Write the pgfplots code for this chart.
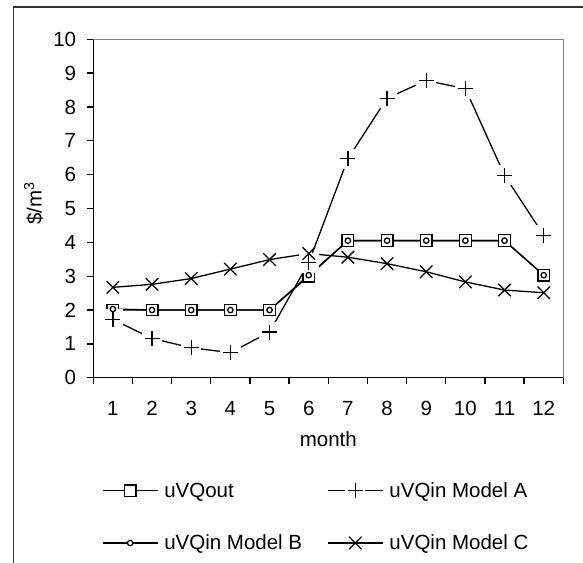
\documentclass[border=0pt]{standalone}
\usepackage{fontspec}
\setmainfont{Liberation Sans}
\usepackage{pgfplots}
\pgfplotsset{compat=1.18}

% "+" drawn over a white box, as the spreadsheet does (it hides the line near the mark)
\pgfdeclareplotmark{boxplus}{%
  \pgfpathrectangle{\pgfqpoint{-1.35\pgfplotmarksize}{-1.35\pgfplotmarksize}}{\pgfqpoint{2.7\pgfplotmarksize}{2.7\pgfplotmarksize}}%
  \pgfusepathqfill
  \pgfpathmoveto{\pgfqpoint{-\pgfplotmarksize}{0pt}}%
  \pgfpathlineto{\pgfqpoint{\pgfplotmarksize}{0pt}}%
  \pgfpathmoveto{\pgfqpoint{0pt}{-\pgfplotmarksize}}%
  \pgfpathlineto{\pgfqpoint{0pt}{\pgfplotmarksize}}%
  \pgfusepathqstroke}

\definecolor{framegray}{RGB}{51,51,51}
\definecolor{plotgray}{RGB}{128,128,128}

\begin{document}
\begin{tikzpicture}[font=\fontsize{20.5bp}{24bp}\selectfont]
\useasboundingbox (0,0) rectangle (583bp,563bp);
\draw[framegray, line width=1.6bp] (13.3bp,-10bp) -- (13.3bp,555.7bp) -- (600bp,555.7bp);

\begin{axis}[
  at={(93.3bp,185.3bp)}, anchor=south west,
  scale only axis, width=470bp, height=338.4bp,
  xmin=0.5, xmax=12.5, ymin=0, ymax=10,
  axis lines=left,
  axis line style={-, black, line width=1.3bp},
  xtick={1,...,12},
  major x tick style={draw=none},
  minor xtick={0.5,1.5,...,12.5},
  ytick={0,...,10},
  tick align=outside,
  major tick length=6.5bp, minor tick length=6.5bp,
  tick style={black, line width=1.3bp},
  /pgf/number format/assume math mode=true,
  xticklabel style={anchor=base, inner sep=0pt, yshift=-31.5bp},
  yticklabel style={anchor=east, inner sep=0pt, xshift=-10.5bp},
  every axis x label/.style={at={(axis description cs:0.5,-0.204)}, anchor=base},
  every axis y label/.style={at={(axis description cs:-0.1098,0.515)}, rotate=90, anchor=base},
  xlabel={month},
  ylabel={\$/m\textsuperscript{3}},
  clip=false,
  legend columns=2,
  legend style={draw=none, fill=none, inner sep=0pt, outer sep=0pt,
    at={(axis description cs:0.0185,-0.304)}, anchor=north west,
    row sep=34bp,
    nodes={inner sep=0pt, anchor=west},
    /tikz/every odd column/.append style={column sep=6bp},
    /tikz/every even column/.append style={column sep=25bp}},
  legend image code/.code={\draw[mark repeat=2, mark phase=2] plot coordinates {(0bp,0bp) (27.5bp,0bp) (55bp,0bp)};},
]
\draw[plotgray, line width=1.3bp] (rel axis cs:0,1) -- (rel axis cs:1,1) -- (rel axis cs:1,0);

\addplot [black, line width=1.3bp, mark=square*, mark size=5.8bp, mark options={fill=white, solid}]
coordinates {(1,2) (2,2) (3,2) (4,2) (5,2) (6,3) (7,4.05) (8,4.05) (9,4.05) (10,4.05) (11,4.05) (12,3.03)};
\addlegendentry{uVQout}

\addplot [black, line width=1.3bp, mark=boxplus, mark size=7.5bp, mark options={fill=white, solid}]
coordinates {(1,1.72) (2,1.16) (3,0.885) (4,0.74) (5,1.35) (6,3.4) (7,6.47) (8,8.26) (9,8.78) (10,8.54) (11,5.98) (12,4.21)};
\addlegendentry{uVQin Model A}

\addplot [black, line width=1.3bp, mark=*, mark size=2.7bp, mark options={fill=white, solid}]
coordinates {(1,2.03) (2,2) (3,2) (4,2) (5,2) (6,3.03) (7,4.05) (8,4.05) (9,4.05) (10,4.05) (11,4.05) (12,3.03)};
\addlegendentry{uVQin Model B}

\addplot [black, line width=1.3bp, mark=x, mark size=8.8bp, mark options={solid}]
coordinates {(1,2.67) (2,2.76) (3,2.93) (4,3.21) (5,3.49) (6,3.67) (7,3.56) (8,3.37) (9,3.13) (10,2.83) (11,2.59) (12,2.51)};
\addlegendentry{uVQin Model C}
\end{axis}
\end{tikzpicture}
\end{document}
